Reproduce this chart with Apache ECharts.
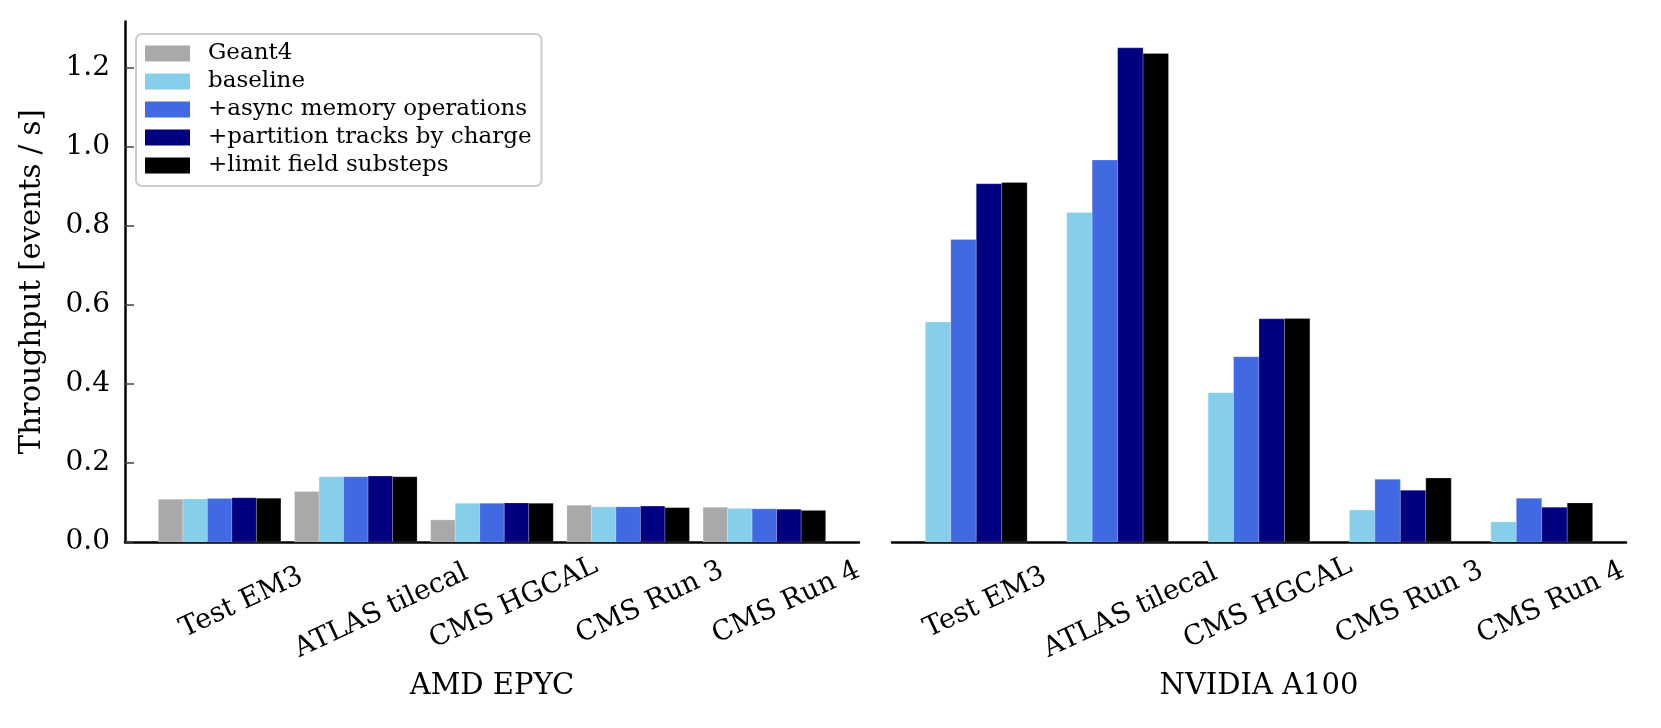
<!DOCTYPE html>
<html>
<head>
<meta charset="utf-8">
<script src="https://cdn.jsdelivr.net/npm/echarts@6/dist/echarts.min.js"></script>
<style>html,body{margin:0;padding:0;background:#fff}#c{width:1661px;height:728px}</style>
</head>
<body>
<div id="c"></div>
<script>
// ---- data ----
const categories = ['Test EM3', 'ATLAS tilecal', 'CMS HGCAL', 'CMS Run 3', 'CMS Run 4'];
const seriesNames = ['Geant4', 'baseline', '+async memory operations', '+partition tracks by charge', '+limit field substeps'];
const seriesColors = ['#a9a9a9', '#87ceeb', '#4169e1', '#000080', '#000000'];
const panelTitles = ['AMD EPYC', 'NVIDIA A100'];
const yTicks = [0, 0.2, 0.4, 0.6, 0.8, 1.0, 1.2];

// AMD EPYC (CPU)
const cpuGeant4    = [0.108, 0.128, 0.056, 0.093, 0.088];
const cpuBaseline  = [0.109, 0.165, 0.098, 0.089, 0.085];
const cpuAsync     = [0.110, 0.165, 0.098, 0.089, 0.084];
const cpuPartition = [0.112, 0.167, 0.099, 0.091, 0.083];
const cpuLimit     = [0.111, 0.165, 0.098, 0.087, 0.080];

// NVIDIA A100 (GPU) - no Geant4
const gpuGeant4    = [null, null, null, null, null];
const gpuBaseline  = [0.557, 0.834, 0.378, 0.081, 0.051];
const gpuAsync     = [0.766, 0.967, 0.469, 0.159, 0.111];
const gpuPartition = [0.907, 1.251, 0.565, 0.131, 0.088];
const gpuLimit     = [0.910, 1.237, 0.566, 0.162, 0.099];

const cpuSeries = [cpuGeant4, cpuBaseline, cpuAsync, cpuPartition, cpuLimit];
const gpuSeries = [gpuGeant4, gpuBaseline, gpuAsync, gpuPartition, gpuLimit];

// ---- layout / style ----
const BW = 0.18;            // bar width in category units
const FONT = 'DejaVu Serif';
const yMax = 1.318;
const xRanges = [[-0.695, 4.695], [-0.506, 4.686]];

function buildData(vals, j) {
  const out = [];
  vals.forEach((v, i) => { if (v !== null) out.push([i + (j - 2) * BW, v]); });
  return out;
}

function renderBar(params, api) {
  const x = api.value(0), v = api.value(1);
  const top = api.coord([x, v]);
  const base = api.coord([x, 0]);
  const w = api.size([BW, 0])[0];
  return {
    type: 'rect',
    shape: { x: top[0] - w / 2, y: top[1], width: w, height: base[1] - top[1] },
    style: api.style({ stroke: 'rgba(255,255,255,0.35)', lineWidth: 0.6 })
  };
}

const series = [];
[cpuSeries, gpuSeries].forEach((set, g) => {
  set.forEach((vals, j) => {
    const d = buildData(vals, j);
    if (!d.length) return;
    series.push({
      type: 'custom',
      name: seriesNames[j],
      xAxisIndex: g, yAxisIndex: g,
      itemStyle: { color: seriesColors[j] },
      renderItem: renderBar,
      encode: { x: 0, y: 1 },
      data: d,
      z: 2
    });
  });
});

function xAxis(g) {
  return {
    type: 'value', gridIndex: g,
    min: xRanges[g][0], max: xRanges[g][1],
    name: panelTitles[g], nameLocation: 'middle', nameGap: 130,
    nameTextStyle: { fontFamily: FONT, fontSize: 29, color: '#000' },
    axisLine: { show: true, onZero: false, lineStyle: { color: '#000', width: 2.5 } },
    axisTick: { show: false },
    splitLine: { show: false },
    axisLabel: {
      customValues: [0, 1, 2, 3, 4],
      rotate: 25, align: 'center', verticalAlign: 'middle',
      margin: 71, padding: [0, 0, 0, 48],
      fontFamily: FONT, fontSize: 27.5, color: '#000',
      formatter: v => {
        const s = categories[Math.round(v)];
        return s.length > 10 ? '{l|' + s + '}' : '{n|' + s + '}';
      },
      rich: {
        n: { fontFamily: FONT, fontSize: 27.5, color: '#000' },
        l: { fontFamily: FONT, fontSize: 27.5, color: '#000', padding: [18, 0, 0, 0] }
      }
    }
  };
}

function yAxis(g) {
  const ax = {
    type: 'value', gridIndex: g, min: 0, max: yMax,
    splitLine: { show: false }
  };
  if (g === 0) {
    Object.assign(ax, {
      name: 'Throughput [events / s]', nameLocation: 'middle', nameGap: 78,
      nameTextStyle: { fontFamily: FONT, fontSize: 29, color: '#000' },
      axisLine: { show: true, onZero: false, lineStyle: { color: '#000', width: 2.5 } },
      axisTick: { show: true, inside: true, length: 9, customValues: yTicks, lineStyle: { color: '#444', width: 1.5 } },
      axisLabel: { customValues: yTicks, margin: 15, fontFamily: FONT, fontSize: 28, color: '#000', formatter: v => v.toFixed(1) }
    });
  } else {
    Object.assign(ax, { show: false });
  }
  return ax;
}

const chart = echarts.init(document.getElementById('c'), null, { renderer: 'canvas' });
chart.setOption({
  animation: false,
  backgroundColor: '#fff',
  grid: [
    { left: 125, width: 734, top: 21.4, bottom: 186 },
    { left: 892, width: 734, top: 21.4, bottom: 186 }
  ],
  xAxis: [xAxis(0), xAxis(1)],
  yAxis: [yAxis(0), yAxis(1)],
  legend: {
    data: seriesNames,
    orient: 'vertical', left: 136, top: 34,
    padding: [8, 10, 9, 9],
    itemWidth: 45, itemHeight: 16, itemGap: 5,
    icon: 'rect',
    selectedMode: false,
    borderColor: '#cccccc', borderWidth: 2, borderRadius: 6,
    backgroundColor: 'rgba(255,255,255,0.8)',
    textStyle: { fontFamily: FONT, fontSize: 23, color: '#000', padding: [0, 0, 0, 13] }
  },
  series: series
});
</script>
</body>
</html>
